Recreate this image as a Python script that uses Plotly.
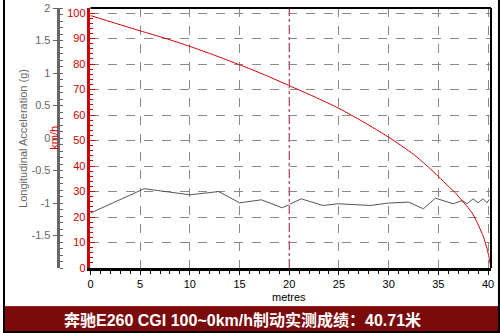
import plotly.graph_objects as go

# ---- data ----
speed_dist = [0, 2.5, 5, 7.5, 10, 12.5, 15, 17.5, 20, 22.5, 25, 27.5, 30, 32.5, 34,
              35, 36, 36.7, 37.5, 38.4, 38.9, 39.5, 39.9, 40.1, 40.3]
speed_kmh = [99, 96, 93, 90.1, 86.9, 83.4, 79.7, 75.8, 71.5, 67.2, 62.6, 57.2, 51.3,
             44.6, 39.6, 35.9, 32.1, 29.5, 25.9, 21.6, 17.9, 12.6, 7.6, 4.2, 0]

acc_dist = [0, 5.4, 10, 12.9, 15, 17.2, 19.3, 20.1, 21.2, 23.4, 24.9, 28.2, 29.9, 32.0,
            33.5, 34.7, 36.5, 37.4, 37.9, 38.5, 39.0, 39.5, 39.9, 40.1]
acc_g = [-1.155, -0.78, -0.874, -0.824, -0.997, -0.951, -1.074, -1.012, -0.936, -1.038,
         -1.012, -1.038, -1.002, -0.986, -1.089, -0.925, -1.012, -0.962, -1.012, -0.936,
         -0.997, -0.936, -0.997, -0.946]

x_ticks = [0, 5, 10, 15, 20, 25, 30, 35, 40]
kmh_ticks = [0, 10, 20, 30, 40, 50, 60, 70, 80, 90, 100]
g_ticks = [-1.5, -1, -0.5, 0, 0.5, 1, 1.5, 2]
g_labels = ["-1.5", "-1", "-0.5", "0", "0.5", "1", "1.5", "2"]
cursor_x = 20
title_text = "<b>奔驰E260 CGI 100~0km/h制动实测成绩：40.71米</b>"

# ---- layout geometry (pixels) ----
W, H = 500, 333
ML, MR, MT, MB = 0, 9, 8, 65
PW = W - ML - MR          # 491
PH = H - MT - MB          # 260
plot_left_px = 88
g_axis_px = 55

def px_x(px):
    return (px - ML) / PW

def px_y(py):
    return (H - MB - py) / PH

FONT = "Liberation Sans, Arial, Noto Sans CJK SC, sans-serif"
RED = "#cc0000"
GRAY = "#666666"

fig = go.Figure()
fig.add_trace(go.Scatter(x=acc_dist, y=acc_g, mode="lines", yaxis="y",
                         line=dict(color="#555555", width=1), showlegend=False))
fig.add_trace(go.Scatter(x=speed_dist, y=speed_kmh, mode="lines", yaxis="y2",
                         line=dict(color=RED, width=1, shape="spline", smoothing=0.6),
                         showlegend=False))

fig.update_layout(
    width=W, height=H,
    margin=dict(l=ML, r=MR, t=MT, b=MB),
    paper_bgcolor="white", plot_bgcolor="white",
    font=dict(family=FONT, size=11, color="black"),
    xaxis=dict(domain=[px_x(plot_left_px), 1], range=[0, 40.3], anchor="y2",
               tickvals=x_ticks, ticks="outside", ticklen=4, tickcolor="black",
               minor=dict(dtick=1, ticks="outside", ticklen=3, tickcolor="black", showgrid=False),
               showline=True, linecolor="black", linewidth=3,
               showgrid=True, gridcolor="#8a8a8a", griddash="dash", gridwidth=1,
               zeroline=False, tickfont=dict(size=11, color="black")),
    yaxis=dict(range=[-2, 2], anchor="free", position=px_x(g_axis_px), side="left",
               tickvals=g_ticks, ticktext=g_labels, ticks="outside", ticklen=4,
               tickcolor=GRAY,
               minor=dict(dtick=0.1, ticks="inside", ticklen=3, tickcolor=GRAY, showgrid=False),
               showline=True, linecolor=GRAY, linewidth=3,
               showgrid=False, zeroline=False,
               tickfont=dict(size=11, color=GRAY)),
    yaxis2=dict(range=[0, 101.96], overlaying="y", anchor="x", side="left",
                tickvals=kmh_ticks, ticks="inside", ticklen=5, tickcolor=RED,
                minor=dict(dtick=2, ticks="inside", ticklen=3, tickcolor=RED, showgrid=False),
                showline=True, linecolor=RED, linewidth=2.5,
                showgrid=True, gridcolor="#8a8a8a", griddash="dash", gridwidth=1,
                zeroline=False, tickfont=dict(size=11, color=RED)),
)

shapes = [
    # cursor line
    dict(type="line", xref="x", yref="paper", x0=cursor_x, x1=cursor_x, y0=0, y1=1,
         line=dict(color="white", width=1.5), layer="above"),
    dict(type="line", xref="x", yref="paper", x0=cursor_x, x1=cursor_x, y0=0, y1=1,
         line=dict(color="#a01030", width=1, dash="dashdot"), layer="above"),
    # plot frame top / right
    dict(type="line", xref="paper", yref="paper", x0=px_x(plot_left_px), x1=1, y0=1, y1=1,
         line=dict(color="black", width=2), layer="above"),
    dict(type="line", xref="paper", yref="paper", x0=1, x1=1, y0=0, y1=1,
         line=dict(color="black", width=2), layer="above"),
    # banner
    dict(type="rect", xref="paper", yref="paper", x0=px_x(0), x1=px_x(W), y0=px_y(306), y1=px_y(H),
         fillcolor="#7b0a0a", line=dict(width=0), layer="above"),
    dict(type="line", xref="paper", yref="paper", x0=px_x(0), x1=px_x(W), y0=px_y(306.5), y1=px_y(306.5),
         line=dict(color="#9c2020", width=1), layer="above"),
    # outer border
    dict(type="line", xref="paper", yref="paper", x0=px_x(1), x1=px_x(1), y0=px_y(0), y1=px_y(H),
         line=dict(color="black", width=2), layer="above"),
    dict(type="line", xref="paper", yref="paper", x0=px_x(W - 1), x1=px_x(W - 1), y0=px_y(0), y1=px_y(H),
         line=dict(color="black", width=2), layer="above"),
    dict(type="line", xref="paper", yref="paper", x0=px_x(0), x1=px_x(W), y0=px_y(H - 1), y1=px_y(H - 1),
         line=dict(color="black", width=2), layer="above"),
]
fig.update_layout(shapes=shapes)

annotations = [
    dict(text="metres", xref="x", yref="paper", x=20, y=px_y(297), showarrow=False,
         font=dict(size=11, color="black"), xanchor="center", yanchor="middle"),
    dict(text="Longitudinal Acceleration (g)", xref="paper", yref="paper",
         x=px_x(20), y=px_y(138), textangle=-90, showarrow=False,
         font=dict(size=11, color=GRAY), xanchor="center", yanchor="middle"),
    dict(text="km/h", xref="paper", yref="paper",
         x=px_x(51), y=px_y(138), textangle=-90, showarrow=False,
         font=dict(size=11, color=RED), xanchor="center", yanchor="middle"),
    dict(text=title_text, xref="paper", yref="paper",
         x=px_x(240.5), y=px_y(320), showarrow=False,
         font=dict(size=16, color="white", family=FONT), xanchor="center", yanchor="middle"),
]
fig.update_layout(annotations=annotations)

fig.write_html("out.html")
